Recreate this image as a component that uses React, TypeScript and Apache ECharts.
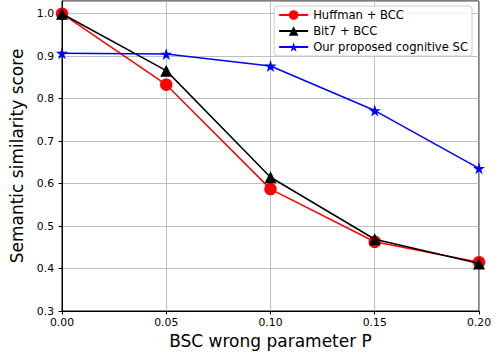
import React, { useEffect, useRef } from "react";
import * as echarts from "echarts";

const xValues = [0.0, 0.05, 0.1, 0.15, 0.2];
const huffman = [1.0, 0.833, 0.587, 0.463, 0.415];
const bit7 = [1.0, 0.866, 0.615, 0.469, 0.412];
const proposed = [0.907, 0.905, 0.877, 0.772, 0.636];
const seriesNames = ["Huffman + BCC", "Bit7 + BCC", "Our proposed cognitive SC"];

const STAR =
  "path://M50 0 L61.17 34.63 L97.55 34.55 L68.07 55.87 L79.39 90.45 L50 69 L20.61 90.45 L31.93 55.87 L2.45 34.55 L38.83 34.63 Z";

const FONT = "DejaVu Sans";

export default function App() {
  const ref = useRef<HTMLDivElement>(null);
  useEffect(() => {
    if (!ref.current) return;
    const chart = echarts.init(ref.current, undefined, { renderer: "svg" });
    const mk = (ys: number[]) => xValues.map((x, i) => [x, ys[i]]);
    chart.setOption({
      animation: false,
      backgroundColor: "#fff",
      textStyle: { fontFamily: FONT },
      grid: {
        left: 62,
        right: 21,
        top: 1,
        bottom: 49,
        show: true,
        borderColor: "#000",
        borderWidth: 1,
      },
      legend: {
        orient: "vertical",
        right: 28,
        top: 6,
        itemWidth: 29,
        itemHeight: 12,
        itemGap: 4,
        padding: [3, 4, 3, 4],
        borderColor: "#ccc",
        borderWidth: 1,
        borderRadius: 3,
        backgroundColor: "rgba(255,255,255,0.8)",
        textStyle: { fontFamily: FONT, fontSize: 11.6, color: "#000" },
        data: seriesNames,
      },
      xAxis: {
        type: "value",
        min: 0,
        max: 0.2,
        interval: 0.05,
        name: "BSC wrong parameter P",
        nameLocation: "middle",
        nameGap: 21,
        nameTextStyle: { fontFamily: FONT, fontSize: 17, color: "#000" },
        axisLine: { show: true, lineStyle: { color: "#000", width: 1 } },
        axisTick: { show: true, length: 3.5, lineStyle: { color: "#000" } },
        axisLabel: {
          fontFamily: FONT,
          fontSize: 10.8,
          color: "#000",
          margin: 6,
          formatter: (v: number) => v.toFixed(2),
        },
        splitLine: { show: true, lineStyle: { color: "#b0b0b0", width: 0.8 } },
      },
      yAxis: {
        type: "value",
        min: 0.3,
        max: 1.03,
        interval: 0.1,
        name: "Semantic similarity score",
        nameLocation: "middle",
        nameGap: 33,
        nameTextStyle: { fontFamily: FONT, fontSize: 17, color: "#000" },
        axisLine: { show: true, lineStyle: { color: "#000", width: 1 } },
        axisTick: { show: true, length: 3.5, lineStyle: { color: "#000" } },
        axisLabel: {
          fontFamily: FONT,
          fontSize: 10.8,
          color: "#000",
          margin: 8,
          showMaxLabel: false,
          formatter: (v: number) => v.toFixed(1),
        },
        splitLine: { show: true, lineStyle: { color: "#b0b0b0", width: 0.8 } },
      },
      series: [
        {
          name: seriesNames[0],
          type: "line",
          data: mk(huffman),
          symbol: "circle",
          symbolSize: 12.5,
          color: "#ff0000",
          lineStyle: { color: "#ff0000", width: 1.5 },
          itemStyle: { color: "#ff0000" },
          z: 2,
        },
        {
          name: seriesNames[1],
          type: "line",
          data: mk(bit7),
          symbol: "triangle",
          symbolSize: 12,
          color: "#000",
          lineStyle: { color: "#000", width: 1.5 },
          itemStyle: { color: "#000" },
          z: 3,
        },
        {
          name: seriesNames[2],
          type: "line",
          data: mk(proposed),
          symbol: STAR,
          symbolSize: 12,
          color: "#0000ff",
          lineStyle: { color: "#0000ff", width: 1.5 },
          itemStyle: { color: "#0000ff" },
          z: 4,
        },
      ],
    });
    return () => chart.dispose();
  }, []);
  return (
    <div
      ref={ref}
      style={{ position: "fixed", left: 0, top: 0, width: 500, height: 360, background: "#fff" }}
    />
  );
}
